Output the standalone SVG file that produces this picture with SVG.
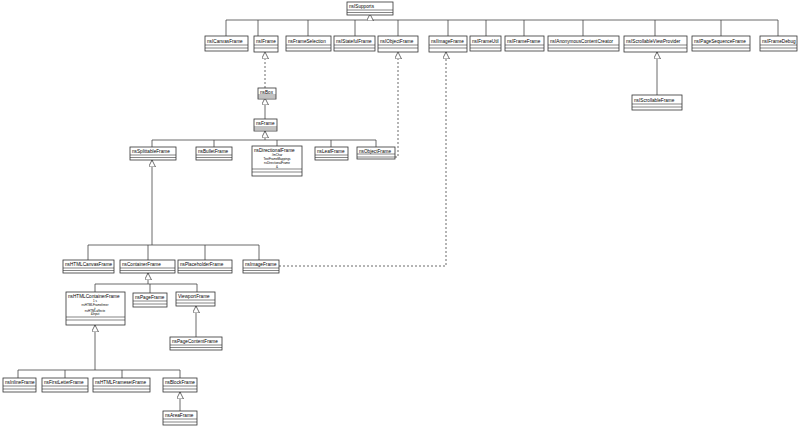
<svg xmlns="http://www.w3.org/2000/svg" width="800" height="426" viewBox="0 0 800 426">
<style>
.b{fill:#fff;stroke:#333;stroke-width:0.8}
.l{stroke:#333;stroke-width:0.6}
.t{font-family:"Liberation Sans",sans-serif;font-size:4.7px;fill:#000}
.s{font-family:"Liberation Sans",sans-serif;font-size:3px;fill:#000;text-anchor:middle}
.c{fill:none;stroke:#444;stroke-width:0.8}
.d{fill:none;stroke:#444;stroke-width:0.8;stroke-dasharray:2,2}
</style>
<defs>
<marker id="tri" markerWidth="8" markerHeight="8" refX="7" refY="3.5" orient="auto" markerUnits="userSpaceOnUse"><path d="M0,0 L7,3.5 L0,7 Z" fill="#fff" stroke="#333" stroke-width="0.7"/></marker>
</defs>
<g id="connectors">
<path class="c" d="M226,36 V20 H778 V36 M258,20 V36 M308,20 V36 M355,20 V36 M398,20 V36 M448,20 V36 M486,20 V36 M524,20 V36 M583,20 V36 M655,20 V36 M721,20 V36"/>
<path class="c" d="M370,20 V14" marker-end="url(#tri)"/>
<path class="c" d="M657,95 V52" marker-end="url(#tri)"/>
<path class="d" d="M265,88 V52" marker-end="url(#tri)"/>
<path class="c" d="M265,119 V98" marker-end="url(#tri)"/>
<path class="c" d="M152,147 V140 H376 V147 M214,140 V147 M277,140 V146 M331,140 V147"/>
<path class="c" d="M265,140 V131" marker-end="url(#tri)"/>
<path class="d" d="M395,157 H398 V52" marker-end="url(#tri)"/>
<path class="c" d="M88,260 V245 H259 V260 M148,245 V260 M205,245 V260"/>
<path class="c" d="M152,245 V160" marker-end="url(#tri)"/>
<path class="d" d="M279,266 H446 V52" marker-end="url(#tri)"/>
<path class="c" d="M95,292 V284 H197 V292 M150,284 V293"/>
<path class="c" d="M148,284 V273" marker-end="url(#tri)"/>
<path class="c" d="M196,337 V306" marker-end="url(#tri)"/>
<path class="c" d="M18,378 V370 H180 V378 M65,370 V378 M122,370 V378"/>
<path class="c" d="M95,370 V325" marker-end="url(#tri)"/>
<path class="c" d="M180,411 V392" marker-end="url(#tri)"/>
</g>
<g id="nsISupports"><rect class="b" x="347" y="2" width="46" height="13"/><path class="l" d="M347,10 H393 M347,12.5 H393"/><text class="t" x="349" y="8">nsISupports</text></g>
<g id="nsICanvasFrame"><rect class="b" x="205" y="36" width="43" height="15"/><path class="l" d="M205,45 H248 M205,48 H248"/><text class="t" x="207" y="43">nsICanvasFrame</text></g>
<g id="nsIFrame"><rect class="b" x="254" y="36" width="24" height="16"/><path class="l" d="M254,45 H278 M254,48 H278"/><text class="t" x="256" y="43">nsIFrame</text></g>
<g id="nsFrameSelection"><rect class="b" x="286" y="36" width="45" height="15"/><path class="l" d="M286,45 H331 M286,48 H331"/><text class="t" x="288" y="43">nsFrameSelection</text></g>
<g id="nsIStatefulFrame"><rect class="b" x="334" y="36" width="41" height="15"/><path class="l" d="M334,45 H375 M334,48 H375"/><text class="t" x="336" y="43">nsIStatefulFrame</text></g>
<g id="nsIObjectFrame"><rect class="b" x="378" y="36" width="40" height="16"/><path class="l" d="M378,45 H418 M378,48 H418"/><text class="t" x="380" y="43">nsIObjectFrame</text></g>
<g id="nsIImageFrame"><rect class="b" x="429" y="36" width="38" height="16"/><path class="l" d="M429,45 H467 M429,48 H467"/><text class="t" x="431" y="43">nsIImageFrame</text></g>
<g id="nsIFrameUtil"><rect class="b" x="470" y="36" width="31" height="15"/><path class="l" d="M470,45 H501 M470,48 H501"/><text class="t" x="472" y="43">nsIFrameUtil</text></g>
<g id="nsIFrameFrame"><rect class="b" x="505" y="36" width="39" height="15"/><path class="l" d="M505,45 H544 M505,48 H544"/><text class="t" x="507" y="43">nsIFrameFrame</text></g>
<g id="nsIAnonymousContentCreator"><rect class="b" x="548" y="36" width="71" height="15"/><path class="l" d="M548,45 H619 M548,48 H619"/><text class="t" x="550" y="43">nsIAnonymousContentCreator</text></g>
<g id="nsIScrollableViewProvider"><rect class="b" x="624" y="36" width="63" height="16"/><path class="l" d="M624,45 H687 M624,48 H687"/><text class="t" x="626" y="43">nsIScrollableViewProvider</text></g>
<g id="nsIPageSequenceFrame"><rect class="b" x="692" y="36" width="58" height="15"/><path class="l" d="M692,45 H750 M692,48 H750"/><text class="t" x="694" y="43">nsIPageSequenceFrame</text></g>
<g id="nsIFrameDebug"><rect class="b" x="760" y="36" width="37" height="15"/><path class="l" d="M760,45 H797 M760,48 H797"/><text class="t" x="762" y="43">nsIFrameDebug</text></g>
<g id="nsIScrollableFrame"><rect class="b" x="632" y="95" width="50" height="15"/><path class="l" d="M632,104 H682 M632,107 H682"/><text class="t" x="634" y="102">nsIScrollableFrame</text></g>
<g id="nsBox"><rect class="b" x="258" y="88" width="18" height="11"/><path class="l" d="M258,95 H276 M258,97 H276"/><text class="t" x="260" y="94">nsBox</text></g>
<g id="nsFrame"><rect class="b" x="254" y="119" width="23" height="12"/><path class="l" d="M254,127 H277 M254,129 H277"/><text class="t" x="256" y="125">nsFrame</text></g>
<g id="nsSplittableFrame"><rect class="b" x="130" y="147" width="46" height="13"/><path class="l" d="M130,155 H176 M130,157.5 H176"/><text class="t" x="132" y="153">nsSplittableFrame</text></g>
<g id="nsBulletFrame"><rect class="b" x="196" y="147" width="36" height="13"/><path class="l" d="M196,155 H232 M196,157.5 H232"/><text class="t" x="198" y="153">nsBulletFrame</text></g>
<g id="nsDirectionalFrame"><rect class="b" x="252" y="146" width="50" height="30"/><path class="l" d="M252,169 H302 M252,172 H302"/><text class="t" x="254" y="152">nsDirectionalFrame</text><text class="s" x="277" y="156">#mChar</text><text class="s" x="277" y="160">TextFrameMappings</text><text class="s" x="277" y="164">nsDirectionalFrame</text><text class="s" x="277" y="168">&amp;</text></g>
<g id="nsLeafFrame"><rect class="b" x="315" y="147" width="33" height="13"/><path class="l" d="M315,155 H348 M315,157.5 H348"/><text class="t" x="317" y="153">nsLeafFrame</text></g>
<g id="nsObjectFrame"><rect class="b" x="357" y="147" width="38" height="12"/><path class="l" d="M357,154 H395 M357,157 H395"/><text class="t" x="359" y="153">nsObjectFrame</text></g>
<g id="nsHTMLCanvasFrame"><rect class="b" x="63" y="260" width="51" height="13"/><path class="l" d="M63,268 H114 M63,270.5 H114"/><text class="t" x="65" y="266">nsHTMLCanvasFrame</text></g>
<g id="nsContainerFrame"><rect class="b" x="120" y="260" width="55" height="13"/><path class="l" d="M120,268 H175 M120,270.5 H175"/><text class="t" x="122" y="266">nsContainerFrame</text></g>
<g id="nsPlaceholderFrame"><rect class="b" x="178" y="260" width="54" height="13"/><path class="l" d="M178,268 H232 M178,270.5 H232"/><text class="t" x="180" y="266">nsPlaceholderFrame</text></g>
<g id="nsImageFrame"><rect class="b" x="243" y="260" width="36" height="13"/><path class="l" d="M243,268 H279 M243,270.5 H279"/><text class="t" x="245" y="266">nsImageFrame</text></g>
<g id="nsHTMLContainerFrame"><rect class="b" x="66" y="292" width="59" height="33"/><path class="l" d="M66,317 H125 M66,320 H125"/><text class="t" x="68" y="298">nsHTMLContainerFrame</text><text class="s" x="95" y="302">1 s</text><text class="s" x="95" y="306">nsHTMLFrameInner</text><text class="s" x="95" y="309">+</text><text class="s" x="95" y="312">nsHTMLaffecte</text><text class="s" x="95" y="315">&amp;Input</text></g>
<g id="nsPageFrame"><rect class="b" x="133" y="293" width="34" height="14"/><path class="l" d="M133,301 H167 M133,304 H167"/><text class="t" x="135" y="299">nsPageFrame</text></g>
<g id="ViewportFrame"><rect class="b" x="176" y="292" width="39" height="14"/><path class="l" d="M176,300 H215 M176,303 H215"/><text class="t" x="178" y="298">ViewportFrame</text></g>
<g id="nsPageContentFrame"><rect class="b" x="170" y="337" width="52" height="13"/><path class="l" d="M170,345 H222 M170,347.5 H222"/><text class="t" x="172" y="343">nsPageContentFrame</text></g>
<g id="nsInlineFrame"><rect class="b" x="3" y="378" width="33" height="14"/><path class="l" d="M3,386 H36 M3,389 H36"/><text class="t" x="5" y="384">nsInlineFrame</text></g>
<g id="nsFirstLetterFrame"><rect class="b" x="42" y="378" width="46" height="14"/><path class="l" d="M42,386 H88 M42,389 H88"/><text class="t" x="44" y="384">nsFirstLetterFrame</text></g>
<g id="nsHTMLFramesetFrame"><rect class="b" x="93" y="378" width="57" height="14"/><path class="l" d="M93,386 H150 M93,389 H150"/><text class="t" x="95" y="384">nsHTMLFramesetFrame</text></g>
<g id="nsBlockFrame"><rect class="b" x="163" y="378" width="34" height="14"/><path class="l" d="M163,386 H197 M163,389 H197"/><text class="t" x="165" y="384">nsBlockFrame</text></g>
<g id="nsAreaFrame"><rect class="b" x="163" y="411" width="34" height="14"/><path class="l" d="M163,419 H197 M163,422 H197"/><text class="t" x="165" y="417">nsAreaFrame</text></g>
</svg>
